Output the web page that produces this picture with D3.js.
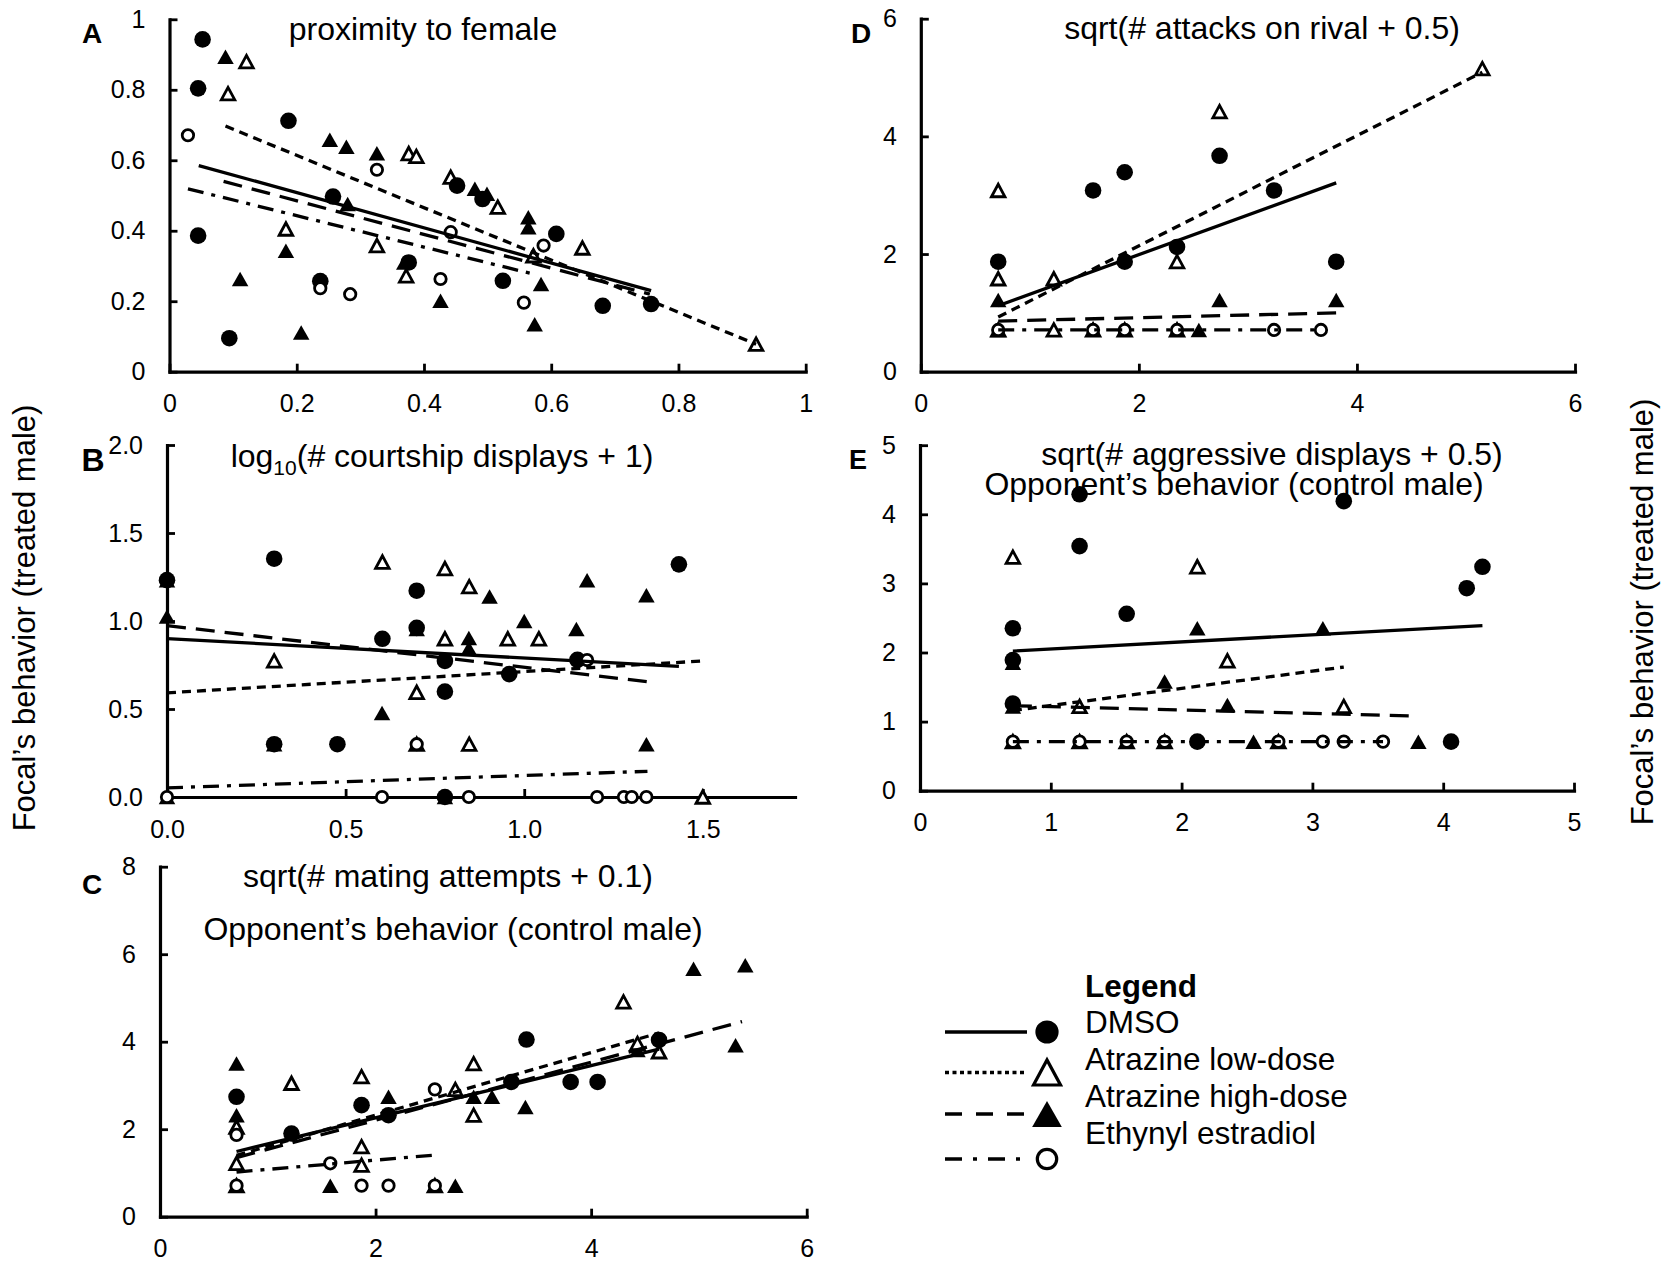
<!DOCTYPE html>
<html>
<head>
<meta charset="utf-8">
<script src="https://cdn.jsdelivr.net/npm/d3@7"></script>
<style>
  html, body { margin: 0; padding: 0; background: #fff; }
  svg { display: block; }
</style>
</head>
<body>
<svg id="chart" width="1663" height="1262"></svg>
<script>
// ---------------------------------------------------------------
// Treatment groups (order of the legend)
// ---------------------------------------------------------------
const groups = ["DMSO", "Atrazine low-dose", "Atrazine high-dose", "Ethynyl estradiol"];

// ---------------------------------------------------------------
// Panel A: proximity to female  [x, y]
// ---------------------------------------------------------------
const aDMSO = [[0.052,0.943],[0.045,0.804],[0.045,0.386],[0.094,0.095],[0.187,0.712],[0.237,0.257],
  [0.257,0.497],[0.376,0.310],[0.452,0.528],[0.492,0.490],[0.524,0.258],[0.608,0.391],[0.681,0.187],[0.757,0.192]];
const aLow = [[0.121,0.880],[0.092,0.789],[0.376,0.619],[0.388,0.611],[0.442,0.552],[0.516,0.467],
  [0.183,0.405],[0.326,0.358],[0.372,0.272],[0.572,0.329],[0.649,0.351],[0.922,0.078]];
const aHigh = [[0.088,0.894],[0.252,0.658],[0.278,0.638],[0.326,0.620],[0.280,0.476],[0.480,0.519],
  [0.499,0.505],[0.564,0.438],[0.564,0.410],[0.183,0.343],[0.111,0.263],[0.369,0.310],[0.426,0.201],
  [0.207,0.111],[0.574,0.135],[0.584,0.249]];
const aEE = [[0.029,0.671],[0.326,0.573],[0.442,0.396],[0.588,0.358],[0.237,0.237],[0.284,0.220],
  [0.426,0.263],[0.557,0.196]];
// regression segments: [group, x0, y0, x1, y1]
const aFits = [["DMSO",0.046,0.585,0.757,0.230],["Atrazine low-dose",0.088,0.697,0.922,0.078],
  ["Atrazine high-dose",0.085,0.540,0.755,0.220],["Ethynyl estradiol",0.029,0.519,0.572,0.277]];

// ---------------------------------------------------------------
// Panel B: log10(# courtship displays + 1)
// ---------------------------------------------------------------
const bDMSO = [[0,1.232],[0.30,1.354],[1.433,1.322],[0.699,1.172],[0.699,0.961],[0.603,0.899],
  [0.778,0.773],[1.149,0.779],[0.958,0.698],[0.778,0.599],[0.30,0.30],[0.477,0.30],[0.778,0]];
const bLow = [[0.603,1.335],[0.778,1.298],[0.846,1.195],[0.30,0.773],[0.778,0.899],[0.954,0.899],
  [1.041,0.899],[0.699,0.595],[0.846,0.30],[0.699,0.30],[1.5,0]];
const bHigh = [[0,1.026],[0,1.232],[0.903,1.139],[1.176,1.232],[1.342,1.146],[1.0,1.0],[1.146,0.954],
  [0.845,0.903],[0.845,0.845],[0.699,0.954],[0.602,0.477],[0.30,0.30],[1.342,0.30],[0.778,0],[0,0]];
const bEE = [[0,0],[0.602,0],[0.845,0],[1.204,0],[1.279,0],[1.301,0],[1.342,0],[0.699,0.30],[1.176,0.778]];
const bFits = [["DMSO",0,0.900,1.433,0.742],["Atrazine low-dose",0,0.592,1.50,0.773],
  ["Atrazine high-dose",0,0.974,1.345,0.655],["Ethynyl estradiol",0,0.052,1.345,0.146]];

// ---------------------------------------------------------------
// Panel C: sqrt(# mating attempts + 0.1)
// ---------------------------------------------------------------
const cDMSO = [[0.71,2.74],[1.22,1.90],[1.87,2.55],[2.12,2.32],[3.26,3.08],[3.40,4.05],[3.81,3.08],
  [4.06,3.08],[4.63,4.04]];
const cLow = [[0.71,2.05],[0.71,1.22],[0.71,0.71],[1.22,3.05],[1.87,3.20],[1.87,1.60],[1.87,1.18],
  [2.74,2.91],[2.91,3.50],[2.91,2.32],[4.30,4.91],[4.43,3.96],[4.63,3.77],[2.55,0.71]];
const cHigh = [[0.71,3.50],[0.71,2.32],[0.71,0.71],[1.58,0.71],[2.12,2.74],[2.74,0.71],[2.91,2.74],
  [3.08,2.74],[3.39,2.51],[4.43,3.81],[4.95,5.67],[5.43,5.75],[5.34,3.92]];
const cEE = [[0.71,1.87],[0.71,0.71],[1.58,1.22],[1.87,0.71],[2.12,0.71],[2.55,2.91],[2.55,0.71]];
const cFits = [["DMSO",0.71,1.49,4.63,3.83],["Atrazine low-dose",0.71,1.40,4.63,4.20],
  ["Atrazine high-dose",0.71,1.35,5.40,4.46],["Ethynyl estradiol",0.71,1.02,2.55,1.41]];

// ---------------------------------------------------------------
// Panel D: sqrt(# attacks on rival + 0.5)
// ---------------------------------------------------------------
const dDMSO = [[0.71,1.87],[1.58,3.08],[1.87,3.39],[1.87,1.87],[2.35,2.12],[2.74,3.67],[3.24,3.08],[3.81,1.87]];
const dLow = [[0.71,3.08],[0.71,1.58],[1.22,1.58],[2.35,1.87],[2.74,4.42],[5.15,5.15],
  [0.71,0.71],[1.22,0.71],[1.58,0.71],[1.87,0.71],[2.35,0.71]];
const dHigh = [[0.71,1.22],[2.74,1.22],[3.81,1.22],[2.55,0.71],[0.71,0.71]];
const dEE = [[0.71,0.71],[1.58,0.71],[1.87,0.71],[2.35,0.71],[3.24,0.71],[3.67,0.71]];
const dFits = [["DMSO",0.71,1.12,3.81,3.21],["Atrazine low-dose",0.71,0.93,5.15,5.09],
  ["Atrazine high-dose",0.71,0.86,3.81,1.00],["Ethynyl estradiol",0.71,0.71,3.67,0.71]];

// ---------------------------------------------------------------
// Panel E: sqrt(# aggressive displays + 0.5)
// ---------------------------------------------------------------
const eDMSO = [[1.22,4.29],[1.22,3.54],[3.24,4.19],[0.71,2.35],[0.71,1.89],[0.71,1.26],[1.58,2.56],
  [4.18,2.93],[4.30,3.24],[2.12,0.71],[4.06,0.71]];
const eLow = [[0.71,3.38],[2.12,3.24],[2.35,1.88],[1.22,1.22],[3.24,1.22],[0.71,0.71],[1.22,0.71],
  [1.58,0.71],[1.87,0.71],[2.74,0.71]];
const eHigh = [[2.12,2.35],[3.08,2.35],[1.87,1.58],[2.35,1.24],[0.71,1.22],[0.71,1.85],[2.55,0.71],
  [3.81,0.71],[0.71,0.71]];
const eEE = [[0.71,0.71],[1.22,0.71],[1.58,0.71],[1.87,0.71],[2.74,0.71],[3.08,0.71],[3.24,0.71],[3.54,0.71]];
const eFits = [["DMSO",0.71,2.02,4.30,2.39],["Atrazine low-dose",0.71,1.16,3.24,1.79],
  ["Atrazine high-dose",0.71,1.23,3.81,1.08],["Ethynyl estradiol",0.71,0.71,3.54,0.71]];

// ---------------------------------------------------------------
// Tick values
// ---------------------------------------------------------------
const aTicks = [0, 0.2, 0.4, 0.6, 0.8, 1];
const bTicksX = [0, 0.5, 1.0, 1.5];
const bTicksY = [0, 0.5, 1.0, 1.5, 2.0];
const cTicksX = [0, 2, 4, 6];
const cTicksY = [0, 2, 4, 6, 8];
const dTicks = [0, 2, 4, 6];
const eTicks = [0, 1, 2, 3, 4, 5];

// ---------------------------------------------------------------
// Styles
// ---------------------------------------------------------------
const FONT = "'Liberation Sans', Arial, Helvetica, sans-serif";
const lineDash = {
  "DMSO": null,
  "Atrazine low-dose": "9,6",
  "Atrazine high-dose": "19,10",
  "Ethynyl estradiol": "16,8,4,8"
};
const legendDash = {
  "DMSO": null,
  "Atrazine low-dose": "4,3.5",
  "Atrazine high-dose": "17,14",
  "Ethynyl estradiol": "17,11,4,11"
};

const svg = d3.select("#chart");
svg.append("rect").attr("width", 1663).attr("height", 1262).attr("fill", "#fff");

function triPath(cx, cy, w, h) {
  return `M${cx - w / 2},${cy + h / 2}L${cx},${cy - h / 2}L${cx + w / 2},${cy + h / 2}Z`;
}

// one marker of a group, sized by scale factor k
function drawMarker(sel, group, cx, cy, k) {
  const sw = 2.8 * (k > 1 ? 1.15 : 1);
  if (group === "DMSO") {
    sel.append("circle").attr("cx", cx).attr("cy", cy).attr("r", 8.3 * k).attr("fill", "#000");
  } else if (group === "Ethynyl estradiol") {
    sel.append("circle").attr("cx", cx).attr("cy", cy).attr("r", 5.7 * k)
      .attr("fill", "#fff").attr("stroke", "#000").attr("stroke-width", sw);
  } else if (group === "Atrazine low-dose") {
    sel.append("path").attr("d", triPath(cx, cy, 13.5 * k, 12.5 * k))
      .attr("fill", "#fff").attr("stroke", "#000").attr("stroke-width", sw)
      .attr("stroke-linejoin", "miter");
  } else {
    sel.append("path").attr("d", triPath(cx, cy, 16.5 * k, 14.5 * k)).attr("fill", "#000");
  }
}

function styleAxis(g) {
  g.attr("font-family", FONT).attr("font-size", 25);
  g.select(".domain").attr("stroke", "#000").attr("stroke-width", 3.2).attr("stroke-linecap", "square");
  g.selectAll(".tick line").attr("stroke", "#000").attr("stroke-width", 2.8);
  g.selectAll(".tick text").attr("fill", "#000");
}

function drawPanel(cfg) {
  const x = d3.scaleLinear().domain(cfg.xDomain).range(cfg.xRange);
  const y = d3.scaleLinear().domain(cfg.yDomain).range(cfg.yRange);
  const g = svg.append("g");

  g.append("g")
    .attr("transform", `translate(0,${cfg.yRange[0]})`)
    .call(d3.axisBottom(x).tickValues(cfg.xTicks).tickFormat(cfg.xFmt)
      .tickSizeInner(-8).tickSizeOuter(0).tickPadding(23))
    .call(styleAxis);

  g.append("g")
    .attr("transform", `translate(${cfg.xRange[0]},0)`)
    .call(d3.axisLeft(y).tickValues(cfg.yTicks).tickFormat(cfg.yFmt)
      .tickSizeInner(-8).tickSizeOuter(0).tickPadding(24))
    .call(styleAxis);

  // markers, drawn back to front
  const order = [
    ["Atrazine high-dose", cfg.high],
    ["Atrazine low-dose", cfg.low],
    ["DMSO", cfg.dmso],
    ["Ethynyl estradiol", cfg.ee]
  ];
  const mg = g.append("g");
  order.forEach(([grp, pts]) => {
    pts.forEach(p => drawMarker(mg, grp, x(p[0]), y(p[1]), 1));
  });

  // fitted lines
  const lg = g.append("g");
  cfg.fits.forEach(f => {
    const ln = lg.append("line")
      .attr("x1", x(f[1])).attr("y1", y(f[2]))
      .attr("x2", x(f[3])).attr("y2", y(f[4]))
      .attr("stroke", "#000").attr("stroke-width", 3.3);
    if (lineDash[f[0]]) ln.attr("stroke-dasharray", lineDash[f[0]]);
  });

  // panel letter
  g.append("text").attr("x", cfg.letterPos[0]).attr("y", cfg.letterPos[1])
    .attr("font-family", FONT).attr("font-weight", "bold").attr("font-size", cfg.letterSize)
    .attr("text-anchor", "middle").text(cfg.letter);

  // titles
  cfg.titles.forEach(t => {
    const tx = g.append("text").attr("x", t.x).attr("y", t.y)
      .attr("font-family", FONT).attr("font-size", 32).attr("text-anchor", "middle");
    if (t.parts) {
      t.parts.forEach(p => {
        const ts = tx.append("tspan").text(p.text);
        if (p.sub) ts.attr("font-size", 21).attr("dy", 8);
        if (p.after) ts.attr("dy", -8);
      });
    } else {
      tx.text(t.text);
    }
  });
}

const fmt1 = d3.format(".1f");
const fmtG = d => String(d);

drawPanel({
  letter: "A", letterPos: [92, 43], letterSize: 28,
  xDomain: [0, 1], xRange: [169.5, 805.7], yDomain: [0, 1], yRange: [371.7, 19.3],
  xTicks: aTicks, yTicks: aTicks, xFmt: fmtG, yFmt: fmtG,
  dmso: aDMSO, low: aLow, high: aHigh, ee: aEE, fits: aFits,
  titles: [{ x: 423, y: 40, text: "proximity to female" }]
});

drawPanel({
  letter: "B", letterPos: [93, 471], letterSize: 32,
  xDomain: [0, 1.758], xRange: [167, 795], yDomain: [0, 2], yRange: [797, 445],
  xTicks: bTicksX, yTicks: bTicksY, xFmt: fmt1, yFmt: fmt1,
  dmso: bDMSO, low: bLow, high: bHigh, ee: bEE, fits: bFits,
  titles: [{ x: 442, y: 467, parts: [
    { text: "log" }, { text: "10", sub: true }, { text: "(# courtship displays + 1)", after: true }
  ] }]
});

drawPanel({
  letter: "C", letterPos: [92, 894], letterSize: 28,
  xDomain: [0, 6], xRange: [160, 806.7], yDomain: [0, 8], yRange: [1216.7, 866.7],
  xTicks: cTicksX, yTicks: cTicksY, xFmt: fmtG, yFmt: fmtG,
  dmso: cDMSO, low: cLow, high: cHigh, ee: cEE, fits: cFits,
  titles: [
    { x: 448, y: 887, text: "sqrt(# mating attempts + 0.1)" },
    { x: 453, y: 940, text: "Opponent\u2019s behavior (control male)" }
  ]
});

drawPanel({
  letter: "D", letterPos: [861, 43], letterSize: 28,
  xDomain: [0, 6], xRange: [920.8, 1575], yDomain: [0, 6], yRange: [371.7, 18.7],
  xTicks: dTicks, yTicks: dTicks, xFmt: fmtG, yFmt: fmtG,
  dmso: dDMSO, low: dLow, high: dHigh, ee: dEE, fits: dFits,
  titles: [{ x: 1262, y: 39, text: "sqrt(# attacks on rival + 0.5)" }]
});

drawPanel({
  letter: "E", letterPos: [858, 469], letterSize: 27,
  xDomain: [0, 5], xRange: [920, 1574], yDomain: [0, 5], yRange: [790.7, 445.2],
  xTicks: eTicks, yTicks: eTicks, xFmt: fmtG, yFmt: fmtG,
  dmso: eDMSO, low: eLow, high: eHigh, ee: eEE, fits: eFits,
  titles: [
    { x: 1272, y: 465, text: "sqrt(# aggressive displays + 0.5)" },
    { x: 1234, y: 495, text: "Opponent\u2019s behavior (control male)" }
  ]
});

// shared y-axis labels on both sides
[[35, 618], [1653, 612]].forEach(([lx, ly]) => {
  svg.append("text")
    .attr("transform", `translate(${lx},${ly}) rotate(-90)`)
    .attr("font-family", FONT).attr("font-size", 31).attr("text-anchor", "middle")
    .text("Focal\u2019s behavior (treated male)");
});

// ---------------------------------------------------------------
// Legend
// ---------------------------------------------------------------
const legend = svg.append("g").attr("font-family", FONT).attr("font-size", 31.5);
legend.append("text").attr("x", 1085).attr("y", 997).attr("font-weight", "bold").text("Legend");
const legendTextY = [1033, 1070, 1107, 1143.5];
const legendSymY = [1032, 1072.5, 1114, 1159];
groups.forEach((grp, i) => {
  legend.append("text").attr("x", 1085).attr("y", legendTextY[i]).text(grp);
  const ln = legend.append("line")
    .attr("x1", 945).attr("x2", 1027).attr("y1", legendSymY[i]).attr("y2", legendSymY[i])
    .attr("stroke", "#000").attr("stroke-width", 3.5);
  if (legendDash[grp]) ln.attr("stroke-dasharray", legendDash[grp]);
  const k = grp === "DMSO" ? 1.4 : grp === "Ethynyl estradiol" ? 1.7 : grp === "Atrazine high-dose" ? 1.8 : 2.0;
  drawMarker(legend, grp, 1047, legendSymY[i], k);
});
</script>
</body>
</html>
